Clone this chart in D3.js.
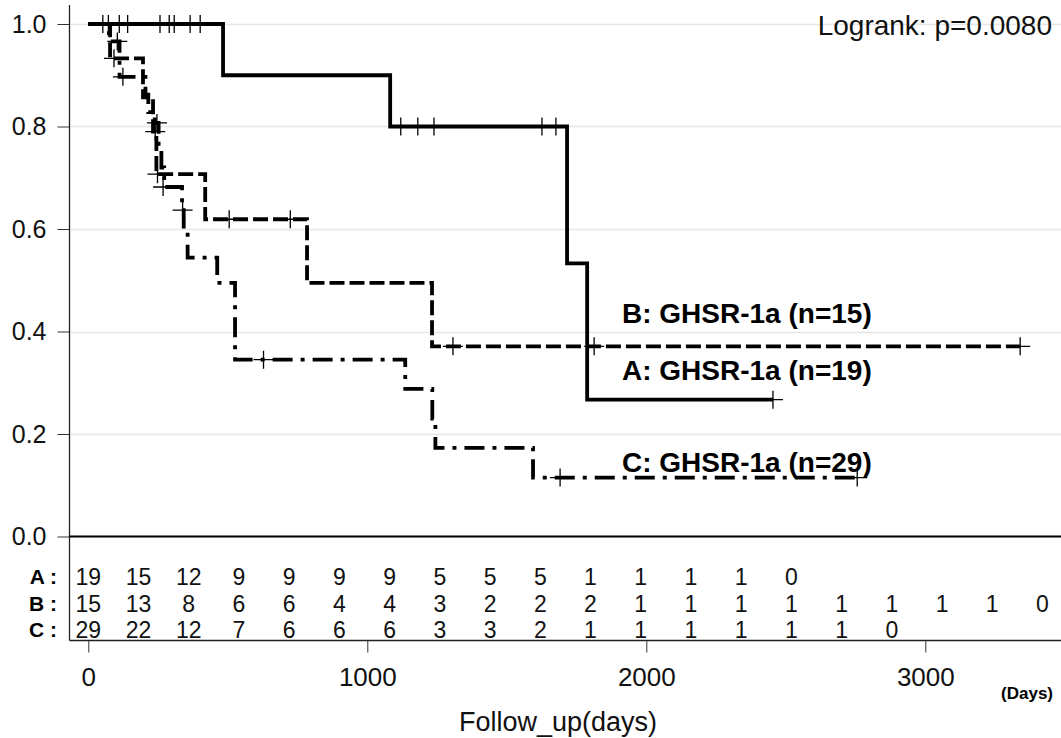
<!DOCTYPE html>
<html lang="en">
<head>
    <meta charset="UTF-8">
    <title>Kaplan-Meier GHSR-1a</title>
    <script src="https://cdn.jsdelivr.net/npm/d3@7/dist/d3.min.js"></script>
    <style>
        body { margin: 0; background: #fff; }
        svg { display: block; }
    </style>
</head>
<body>
<svg id="svg"></svg>
<script>
    // groups
    var groupKeys = ["A", "B", "C"];
    var groupLabels = ["A: GHSR-1a (n=19)", "B: GHSR-1a (n=15)", "C: GHSR-1a (n=29)"];

    // survival steps [day, survival]
    var stepsA = [[0, 1], [483, 0.9], [1082, 0.8], [1716, 0.533], [1788, 0.267]];
    var stepsB = [[0, 1], [78, 0.933], [196, 0.857], [232, 0.79], [244, 0.707], [419, 0.619], [784, 0.495], [1232, 0.371]];
    var stepsC = [[0, 1], [74, 0.966], [112, 0.897], [205, 0.862], [215, 0.828], [238, 0.807], [252, 0.759], [262, 0.72],
        [272, 0.682], [336, 0.637], [342, 0.593], [356, 0.544], [462, 0.495], [526, 0.345], [1136, 0.288],
        [1233, 0.23], [1244, 0.173], [1594, 0.115]];
    // last follow-up day of each curve
    var lastDay = [2454, 3340, 2756];

    // censored cases [day, survival]
    var censorA = [[52, 1], [72, 1], [111, 1], [141, 1], [257, 1], [290, 1], [308, 1], [365, 1], [401, 1],
        [1120, 0.8], [1181, 0.8], [1239, 0.8], [1626, 0.8], [1676, 0.8], [2454, 0.267]];
    var censorB = [[92, 0.933], [240, 0.79], [248, 0.707], [505, 0.619], [724, 0.619], [1307, 0.371], [1813, 0.371], [3340, 0.371]];
    var censorC = [[104, 0.966], [124, 0.897], [246, 0.807], [268, 0.682], [338, 0.637], [628, 0.345], [1691, 0.115], [2756, 0.115]];

    // number at risk
    var riskTimes = [0, 180, 360, 540, 720, 900, 1080, 1260, 1440, 1620, 1800, 1980, 2160, 2340, 2520, 2700, 2880, 3060, 3240, 3420];
    var riskA = [19, 15, 12, 9, 9, 9, 9, 5, 5, 5, 1, 1, 1, 1, 0];
    var riskB = [15, 13, 8, 6, 6, 4, 4, 3, 2, 2, 2, 1, 1, 1, 1, 1, 1, 1, 1, 0];
    var riskC = [29, 22, 12, 7, 6, 6, 6, 3, 3, 2, 1, 1, 1, 1, 1, 1, 0];

    // axes
    var xTicks = [0, 1000, 2000, 3000];
    var yTicks = [0, 0.2, 0.4, 0.6, 0.8, 1.0];
    var pValueText = "Logrank: p=0.0080";

    var width = 1061, height = 738;
    var left = 69.5, axisBottom = 640.5;

    var svg = d3.select("#svg")
        .attr("width", width)
        .attr("height", height)
        .style("font-family", "'Liberation Sans', Arial, sans-serif");

    var x = d3.scaleLinear().domain([0, 3000]).range([88.3, 925.3]);
    var y = d3.scaleLinear().domain([0, 1]).range([536.5, 24]);

    // 横向网格线
    svg.append("g")
        .selectAll("line")
        .data(yTicks.filter(function (d) { return d > 0; }))
        .enter()
        .append("line")
        .attr("x1", left)
        .attr("x2", width)
        .attr("y1", function (d) { return Math.round(y(d)) + 0.5; })
        .attr("y2", function (d) { return Math.round(y(d)) + 0.5; })
        .style("stroke", "#e6e6e6")
        .style("stroke-width", 1.5);

    // y 轴
    var yAxis = svg.append("g")
        .attr("transform", "translate(" + left + ",0)")
        .call(d3.axisLeft(y).tickValues(yTicks).tickSize(12).tickPadding(11).tickFormat(d3.format(".1f")));
    yAxis.select(".domain").remove();
    yAxis.selectAll("text").style("font-size", "25px").style("fill", "#111").style("font-family", "'Liberation Sans', Arial, sans-serif");
    yAxis.selectAll("line").style("stroke", "#333");

    // frame: left axis line, 0.0 line, bottom line
    svg.append("line")
        .attr("x1", left).attr("x2", left)
        .attr("y1", 5).attr("y2", axisBottom)
        .style("stroke", "#222").style("stroke-width", 1.3);
    svg.append("line")
        .attr("x1", left).attr("x2", width)
        .attr("y1", y(0)).attr("y2", y(0))
        .style("stroke", "#000").style("stroke-width", 2);
    svg.append("line")
        .attr("x1", left).attr("x2", width)
        .attr("y1", axisBottom).attr("y2", axisBottom)
        .style("stroke", "#222").style("stroke-width", 1.3);

    // x 轴
    var xAxis = svg.append("g")
        .attr("transform", "translate(0," + axisBottom + ")")
        .call(d3.axisBottom(x).tickValues(xTicks).tickSize(12).tickPadding(15).tickFormat(d3.format("d")));
    xAxis.select(".domain").remove();
    xAxis.selectAll("text").style("font-size", "26px").style("fill", "#111").style("font-family", "'Liberation Sans', Arial, sans-serif");
    xAxis.selectAll("line").style("stroke", "#333");

    // 生存曲线
    var line = d3.line()
        .curve(d3.curveStepAfter)
        .x(function (d) { return x(d[0]); })
        .y(function (d) { return y(d[1]); });

    var curves = [
        {steps: stepsC, end: lastDay[2], dash: "20,8,4,8"},
        {steps: stepsB, end: lastDay[1], dash: "15,5"},
        {steps: stepsA, end: lastDay[0], dash: null}
    ];

    svg.append("g")
        .selectAll("path")
        .data(curves)
        .enter()
        .append("path")
        .attr("d", function (d) {
            var pts = d.steps.slice();
            pts.push([d.end, d.steps[d.steps.length - 1][1]]);
            return line(pts);
        })
        .style("fill", "none")
        .style("stroke", "#000")
        .style("stroke-width", 3.8)
        .style("stroke-dasharray", function (d) { return d.dash; });

    // 删失标记
    var censors = censorA.concat(censorB, censorC);
    svg.append("g")
        .selectAll("path")
        .data(censors)
        .enter()
        .append("path")
        .attr("transform", function (d) { return "translate(" + x(d[0]) + "," + y(d[1]) + ")"; })
        .attr("d", "M-10,0H10M0,-9V9")
        .style("stroke", "#000")
        .style("stroke-width", 1.3)
        .style("fill", "none");

    // 曲线标签
    var labelPos = [
        {text: groupLabels[1], y: 323},
        {text: groupLabels[0], y: 380},
        {text: groupLabels[2], y: 472}
    ];
    svg.append("g")
        .selectAll("text")
        .data(labelPos)
        .enter()
        .append("text")
        .attr("x", 622)
        .attr("y", function (d) { return d.y; })
        .style("font-size", "28px")
        .style("font-weight", "bold")
        .style("fill", "#000")
        .text(function (d) { return d.text; });

    svg.append("text")
        .attr("x", 1052)
        .attr("y", 35)
        .attr("text-anchor", "end")
        .style("font-size", "28px")
        .style("fill", "#111")
        .text(pValueText);

    // number at risk table
    var riskRows = [riskA, riskB, riskC];
    var rowBase = [585, 612, 638];
    riskRows.forEach(function (row, i) {
        svg.append("text")
            .attr("x", 57)
            .attr("y", rowBase[i] - 1)
            .attr("text-anchor", "end")
            .style("font-size", "21px")
            .style("font-weight", "bold")
            .text(groupKeys[i] + " :");

        svg.append("g")
            .selectAll("text")
            .data(row)
            .enter()
            .append("text")
            .attr("x", function (d, j) { return x(riskTimes[j]); })
            .attr("y", rowBase[i])
            .attr("text-anchor", "middle")
            .style("font-size", "23px")
            .style("fill", "#111")
            .text(function (d) { return d; });
    });

    svg.append("text")
        .attr("x", 1053)
        .attr("y", 699)
        .attr("text-anchor", "end")
        .style("font-size", "17px")
        .style("font-weight", "bold")
        .text("(Days)");

    svg.append("text")
        .attr("x", 558)
        .attr("y", 731)
        .attr("text-anchor", "middle")
        .style("font-size", "27px")
        .style("fill", "#111")
        .text("Follow_up(days)");
</script>
</body>
</html>
